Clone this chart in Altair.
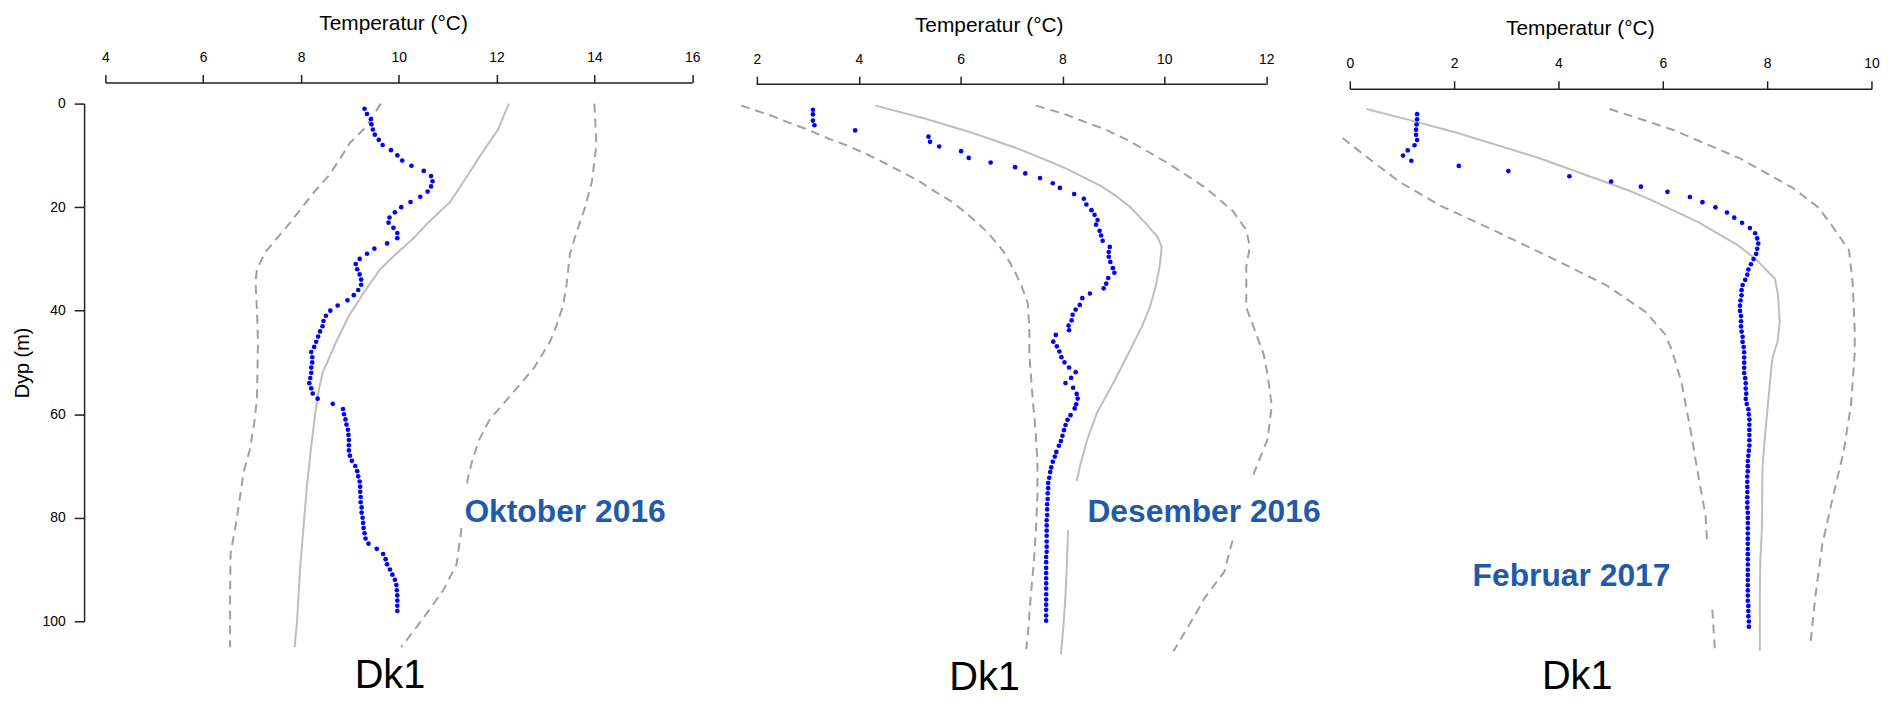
import altair as alt
import pandas as pd

FONT = "Liberation Sans"
LABEL_BLUE = "#1F5BAA"

# ---------------- common axis ticks ----------------
X_TICKS_OKT = [4, 6, 8, 10, 12, 14, 16]
X_TICKS_DES = [2, 4, 6, 8, 10, 12]
X_TICKS_FEB = [0, 2, 4, 6, 8, 10]
Y_TICKS = [0, 20, 40, 60, 80, 100]

# ---------------- Oktober 2016 ----------------
OKT_OBS_D = list(range(1, 99))
OKT_OBS_T = [9.30, 9.35, 9.43, 9.44, 9.47, 9.51, 9.59, 9.67, 9.84, 9.97,
             10.07, 10.26, 10.51, 10.66, 10.69, 10.66, 10.59, 10.44, 10.24, 10.05,
             9.92, 9.81, 9.79, 9.89, 9.97, 9.97, 9.76, 9.50, 9.35, 9.20,
             9.12, 9.15, 9.20, 9.23, 9.23, 9.17, 9.08, 8.95, 8.75, 8.60,
             8.51, 8.46, 8.44, 8.39, 8.35, 8.31, 8.27, 8.21, 8.23, 8.23,
             8.21, 8.21, 8.19, 8.17, 8.21, 8.24, 8.34, 8.65, 8.86, 8.88,
             8.91, 8.93, 8.96, 8.97, 8.98, 8.98, 8.98, 9.00, 9.04, 9.11,
             9.15, 9.17, 9.20, 9.21, 9.21, 9.22, 9.22, 9.24, 9.24, 9.26,
             9.27, 9.28, 9.30, 9.32, 9.38, 9.55, 9.68, 9.73, 9.76, 9.82,
             9.87, 9.92, 9.95, 9.96, 9.97, 9.97, 9.97, 9.97]
OKT_MEAN_D = [0, 5, 10, 15, 19, 23, 26, 29.6, 32, 36, 41, 46, 49.5, 52, 56, 60, 67, 74, 82, 90, 100, 105]
OKT_MEAN_T = [12.25, 12.03, 11.67, 11.33, 11.05, 10.60, 10.30, 9.88, 9.62, 9.32, 8.98, 8.72, 8.56, 8.44,
              8.35, 8.29, 8.20, 8.12, 8.05, 7.98, 7.92, 7.87]
OKT_LO_D = [0, 4.4, 7.6, 10.8, 14, 16.5, 19.7, 23, 26, 28.7, 32, 34.4, 40, 46, 57, 62, 67, 71, 80, 87, 95, 105]
OKT_LO_T = [9.63, 9.34, 9.00, 8.79, 8.56, 8.32, 8.05, 7.78, 7.51, 7.27, 7.10, 7.07, 7.10, 7.12, 7.10, 7.04,
            6.95, 6.83, 6.69, 6.56, 6.55, 6.55]
OKT_HI_D = [0, 8, 15, 20, 25, 29, 35, 39, 43, 46, 51, 56, 61, 65, 69, 72.5, 74.5, None,
            82, 83, 89, 94, 99.4, 105]
OKT_HI_T = [14.00, 14.04, 13.95, 13.81, 13.63, 13.50, 13.43, 13.36, 13.22, 13.09, 12.77, 12.32, 11.86,
            11.64, 11.50, 11.41, 11.38, None, 11.28, 11.27, 11.18, 10.91, 10.50, 10.05]

# ---------------- Desember 2016 ----------------
DES_OBS_D = [0.8, 1.7, 2.9, 3.8, 4.8, 6.0, 7.0, 7.9, 8.8, 10.1, 11.0, 11.9, 13.1, 14.0, 15.0, 15.9,
             17.1, 18.0, 19.1, 20.2, 21.1, 22.1, 23.0, 24.2, 25.1, 26.1, 27.3, 28.3, 29.2, 30.2, 31.4,
             32.3, 33.3, 34.4, 35.3, 36.3, 37.2, 38.5, 39.4, 40.4, 41.5, 42.5, 43.4, 44.3, 45.6,
             46.5, 47.5, 48.6, 49.6, 50.6, 51.5, 52.6, 53.6, 54.5, 55.7, 56.6, 57.7, 58.5, 59.8, 60.7,
             61.7, 62.7, 63.8, 64.8, 65.7, 66.9, 67.8, 68.8, 69.9, 70.8, 71.9, 72.9, 73.9, 74.9, 76.0,
             77.0, 78.0, 79.1, 80.1, 81.1, 82.1, 83.1, 84.2, 85.2, 86.2, 87.2, 88.2, 89.3, 90.3, 91.3,
             92.3, 93.3, 94.4, 95.4, 96.4, 97.4, 98.5, 99.5]
DES_OBS_T = [3.10, 3.10, 3.10, 3.13, 3.93, 5.37, 5.40, 5.58, 6.01, 6.16, 6.59, 7.07, 7.27, 7.56, 7.81,
             7.95, 8.23, 8.42, 8.47, 8.57, 8.63, 8.69, 8.66, 8.73, 8.76, 8.79, 8.93, 8.91, 8.91, 8.94,
             8.99, 9.02, 8.90, 8.86, 8.81, 8.54, 8.39, 8.34, 8.26, 8.20, 8.18, 8.12, 8.13, 7.87, 7.82,
             7.89, 7.94, 7.98, 8.04, 8.13, 8.26, 8.17, 8.06, 8.21, 8.28, 8.30, 8.27, 8.24, 8.16, 8.10,
             8.06, 8.03, 8.00, 7.97, 7.93, 7.88, 7.85, 7.81, 7.78, 7.76, 7.74, 7.72, 7.72, 7.71, 7.71,
             7.70, 7.70, 7.70, 7.69, 7.69, 7.69, 7.69, 7.69, 7.69, 7.69, 7.68, 7.68, 7.68, 7.68, 7.68,
             7.68, 7.68, 7.68, 7.68, 7.68, 7.68, 7.68, 7.68]
DES_MEAN_D = [0, 2.6, 5.3, 8.5, 12, 15.5, 17.3, 19.6, 22.8, 25.4, 27.3, 31, 35, 38.8, 42.7, 45.2, 47.2,
              53, 59.3, 64.4, 69, 72.5, None, 82, 88, 94.5, 100.5, 106]
DES_MEAN_T = [4.33, 5.33, 6.24, 7.18, 8.04, 8.75, 9.03, 9.33, 9.64, 9.87, 9.95, 9.91, 9.83, 9.72, 9.56,
              9.43, 9.33, 9.03, 8.68, 8.49, 8.36, 8.28, None, 8.11, 8.09, 8.06, 8.02, 7.97]
DES_LO_D = [0, 2, 3.2, 4.6, 6.4, 7.7, 9.4, 11, 12.8, 14.7, 16.8, 18.7, 21.6, 24.5, 28, 31.2, 34.4, 38.2,
            43, 48, 56, 62.5, 69, 75, 82, 88, 94.5, 101, 105]
DES_LO_T = [1.69, 2.30, 2.60, 2.99, 3.41, 3.77, 4.16, 4.49, 4.84, 5.20, 5.53, 5.85, 6.21, 6.53, 6.83,
            7.02, 7.18, 7.32, 7.35, 7.35, 7.41, 7.47, 7.51, 7.51, 7.48, 7.44, 7.38, 7.33, 7.29]
DES_HI_D = [0, 1.7, 3.2, 4.6, 6.9, 11.3, 15.8, 20.3, 24, 27.3, 31, 39, 44, 48, 52, 58, 64.4, 72, None,
            84, 90, 95, 100.3, 105.4]
DES_HI_T = [7.48, 8.06, 8.45, 8.84, 9.33, 10.10, 10.80, 11.34, 11.61, 11.68, 11.61, 11.61, 11.80, 11.95,
            12.03, 12.11, 12.03, 11.72, None, 11.34, 11.18, 10.80, 10.49, 10.18]

# ---------------- Februar 2017 ----------------
FEB_OBS_D = list(range(1, 101))
FEB_OBS_T = [1.29, 1.29, 1.28, 1.27, 1.27, 1.29, 1.24, 1.11, 1.02, 1.18,
             2.09, 3.04, 4.21, 5.01, 5.58, 6.09, 6.52, 6.76, 7.01, 7.23,
             7.37, 7.52, 7.67, 7.77, 7.81, 7.83, 7.81, 7.79, 7.74, 7.69,
             7.64, 7.62, 7.58, 7.53, 7.51, 7.51, 7.49, 7.48, 7.48, 7.50,
             7.50, 7.50, 7.51, 7.53, 7.53, 7.55, 7.56, 7.56, 7.56, 7.56,
             7.56, 7.58, 7.59, 7.59, 7.60, 7.59, 7.61, 7.64, 7.65, 7.66,
             7.66, 7.66, 7.66, 7.66, 7.66, 7.65, 7.64, 7.63, 7.63, 7.63,
             7.62, 7.62, 7.62, 7.62, 7.62, 7.62, 7.62, 7.63, 7.63, 7.63,
             7.63, 7.63, 7.63, 7.63, 7.63, 7.63, 7.63, 7.63, 7.63, 7.63,
             7.63, 7.63, 7.63, 7.63, 7.63, 7.64, 7.64, 7.64, 7.65, 7.65]
FEB_MEAN_D = [0, 2, 4.6, 9.1, 10, 15.8, 17.4, 21.9, 26.4, 28.9, 32.8, 36, 41.1, 44.9, 47.5, 49, 55.5,
              63, 69.5, 81, 87.4, 94, 101.5, 104.7]
FEB_MEAN_T = [0.32, 1.10, 2.05, 3.51, 3.77, 5.36, 5.74, 6.69, 7.45, 7.77, 8.15, 8.21, 8.24, 8.20, 8.12,
              8.09, 8.03, 7.96, 7.91, 7.90, 7.87, 7.86, 7.86, 7.86]
FEB_LO_D = [5.6, 10.4, 14.2, 18.7, 23.1, 28.3, 34, 39.2, 43.6, 46.8, 52.9, 62.5, 72, 78.5, 83.8, None,
            96.7, 101.5, 104.7]
FEB_LO_T = [-0.14, 0.47, 0.97, 1.74, 2.69, 3.77, 4.91, 5.67, 6.05, 6.18, 6.36, 6.54, 6.70, 6.82, 6.85,
            None, 6.95, 6.98, 7.00]
FEB_HI_D = [0, 4, 9.6, 15.3, 19, 22.8, 27.3, 33.7, 43, 47, 57, 66, 75, 84, 94.5, 103.5]
FEB_HI_T = [4.98, 6.19, 7.49, 8.50, 8.98, 9.26, 9.57, 9.64, 9.68, 9.68, 9.61, 9.47, 9.26, 9.06, 8.92, 8.83]

# ---------------- annotations ----------------
MONTH_LABELS = ["Oktober 2016", "Desember 2016", "Februar 2017"]
MONTH_T = [13.40, 10.78, 4.25]
MONTH_D = [78.9, 78.6, 90.3]
STATION = "Dk1"
STATION_T = [9.82, 6.47, 4.36]
STATION_D = [110.6, 110.5, 109.7]

# Layout (pixels): each panel's plot width follows its own temperature range;
# panel 2 is widened on its right side so one concat spacing fits all gaps.
SPACING = 64.7
PX_PER_DEG = [49.22, 51.25, 52.5]
EXTRA_RIGHT_P2 = 19.0


def line_frame(ds, ts, name):
    rows, seg = [], 0
    for d, t in zip(ds, ts):
        if d is None:
            seg += 1
            continue
        rows.append({"d": d, "t": t, "seg": f"{name}{seg}"})
    return pd.DataFrame(rows)


def panel(idx, ticks, obs_d, obs_t, mean, lo, hi, xdom, width, ydom, height,
          xoff, title_x, title_pad, show_y, own_domain_line):
    xscale = alt.Scale(domain=xdom, nice=False, zero=False)
    yscale = alt.Scale(domain=ydom, nice=False, zero=False, reverse=True)
    xaxis = alt.Axis(orient="top", values=ticks, title="Temperatur (°C)", offset=xoff,
                     titleX=title_x, grid=False, tickSize=8, labelPadding=10,
                     titlePadding=title_pad, format="d", labelFlush=False, labelOverlap=False,
                     domain=not own_domain_line)
    if show_y:
        yaxis = alt.Axis(values=Y_TICKS, title="Dyp (m)", offset=21.4, grid=False, tickSize=10,
                         labelPadding=9, titlePadding=10, titleFontSize=20,
                         labelFlush=False, labelOverlap=False, format="d")
    else:
        yaxis = None
    X = alt.X("t:Q", scale=xscale, axis=xaxis)
    Y = alt.Y("d:Q", scale=yscale, axis=yaxis)

    mean_layer = alt.Chart(line_frame(mean[0], mean[1], "m")).mark_line(
        color="#BEBEBE", strokeWidth=2, clip=False
    ).encode(x=X, y=Y, detail="seg:N", order=alt.Order("d:Q"))

    band = pd.concat([line_frame(lo[0], lo[1], "lo"), line_frame(hi[0], hi[1], "hi")])
    band_layer = alt.Chart(band).mark_line(
        color="#A0A0A0", strokeWidth=2, strokeDash=[9, 6], clip=False
    ).encode(x=X, y=Y, detail="seg:N", order=alt.Order("d:Q"))

    obs_layer = alt.Chart(pd.DataFrame({"d": obs_d, "t": obs_t})).mark_circle(
        color="#0000FF", size=22, opacity=1, clip=False
    ).encode(x=X, y=Y)

    month_layer = alt.Chart(pd.DataFrame({
        "t": [MONTH_T[idx]], "d": [MONTH_D[idx]], "label": [MONTH_LABELS[idx]]
    })).mark_text(font=FONT, fontSize=32, fontWeight="bold", color=LABEL_BLUE,
                  align="center", baseline="middle", clip=False
    ).encode(x=X, y=Y, text="label:N")

    station_layer = alt.Chart(pd.DataFrame({
        "t": [STATION_T[idx]], "d": [STATION_D[idx]], "label": [STATION]
    })).mark_text(font=FONT, fontSize=40, color="#000000",
                  align="center", baseline="middle", clip=False
    ).encode(x=X, y=Y, text="label:N")

    layers = [mean_layer, band_layer, obs_layer, month_layer, station_layer]
    if own_domain_line:
        axis_line = alt.Chart(pd.DataFrame({"t": [min(ticks)], "t2": [max(ticks)]})).mark_rule(
            color="#222222", strokeWidth=1.5, clip=False
        ).encode(x=X, x2="t2:Q", y=alt.value(-xoff))
        layers.insert(0, axis_line)
    return alt.layer(*layers).properties(width=width, height=height)


p1 = panel(0, X_TICKS_OKT, OKT_OBS_D, OKT_OBS_T, (OKT_MEAN_D, OKT_MEAN_T),
           (OKT_LO_D, OKT_LO_T), (OKT_HI_D, OKT_HI_T), [4, 16], 590.6, [0, 100], 521,
           21.3, 289.5, 17, True, False)
p2 = panel(1, X_TICKS_DES, DES_OBS_D, DES_OBS_T, (DES_MEAN_D, DES_MEAN_T),
           (DES_LO_D, DES_LO_T), (DES_HI_D, DES_HI_T),
           [2, 12 + EXTRA_RIGHT_P2 / PX_PER_DEG[1]], 512.5 + EXTRA_RIGHT_P2, [-0.384, 100], 523,
           19.6, 233.3, 17, False, True)
p3 = panel(2, X_TICKS_FEB, FEB_OBS_D, FEB_OBS_T, (FEB_MEAN_D, FEB_MEAN_T),
           (FEB_LO_D, FEB_LO_T), (FEB_HI_D, FEB_HI_T), [0, 10], 525, [-1.04, 100], 526.4,
           15.0, 231.5, 19, False, False)

chart = alt.hconcat(p1, p2, p3, spacing=SPACING, bounds="flush").properties(
    padding={"left": 4, "top": 2, "right": 0, "bottom": 0}
).configure_view(stroke=None).configure_axis(
    labelFont=FONT, titleFont=FONT, labelFontSize=14, titleFontSize=21,
    titleFontWeight="normal", labelColor="#000000", titleColor="#000000",
    domainColor="#222222", tickColor="#222222", domainWidth=1.5, tickWidth=1.5
)

chart.save("out.html", embed_options={"renderer": "svg", "actions": False})
